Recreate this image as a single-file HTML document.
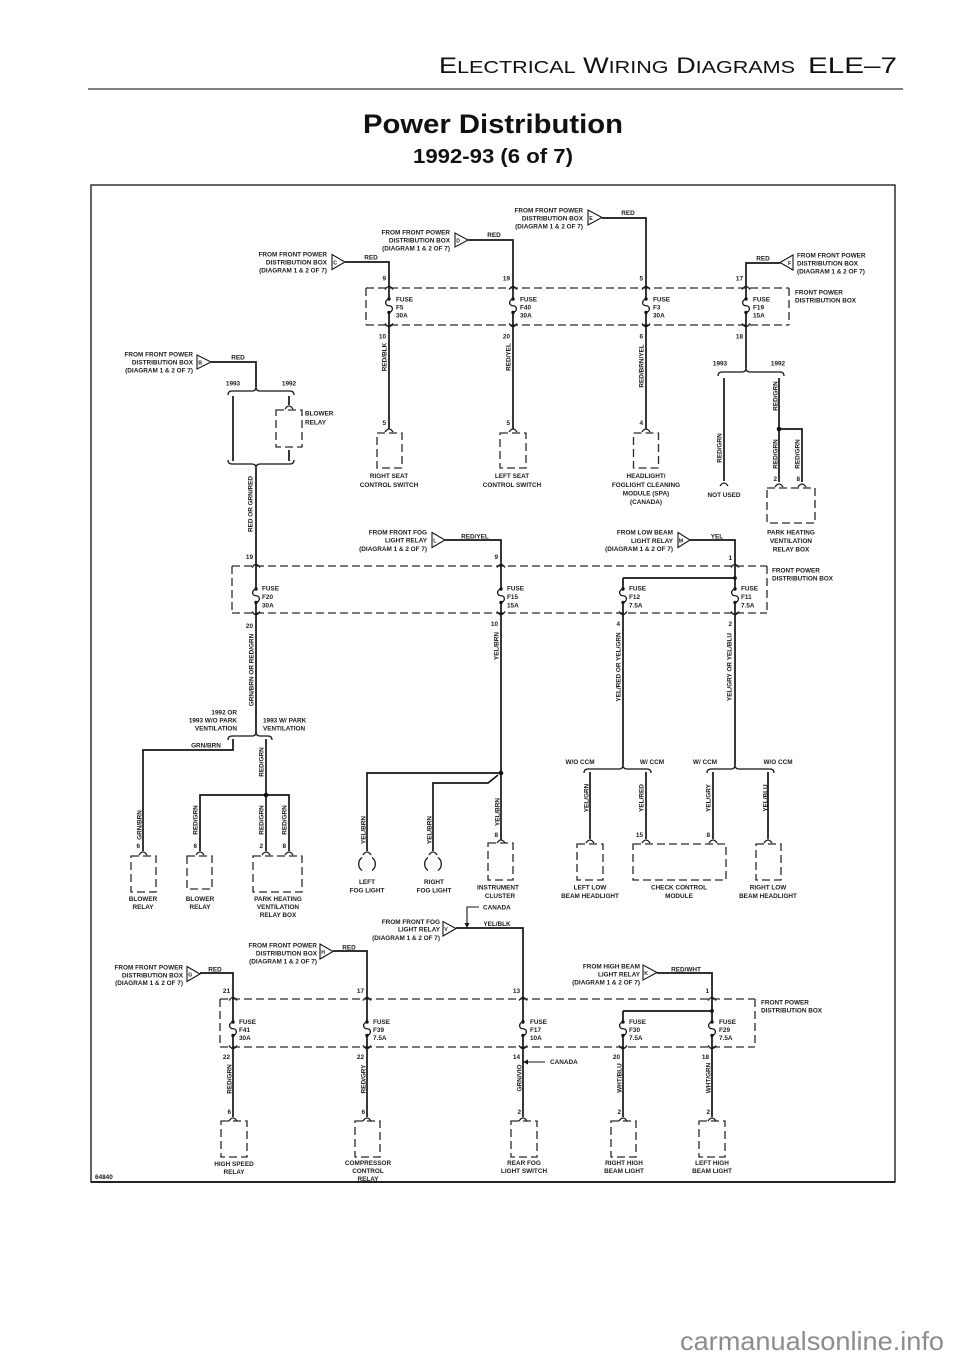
<!DOCTYPE html>
<html><head><meta charset="utf-8"><title>Power Distribution 1992-93 (6 of 7)</title><style>
html,body{margin:0;padding:0;background:#fff}
svg{display:block}
text{font-family:"Liberation Sans",Arial,sans-serif;font-weight:bold;font-size:6.4px;fill:#1c1c1c}
.m{text-anchor:middle}.e{text-anchor:end}
.w{fill:none;stroke:#151515;stroke-width:1.7}
.d{fill:none;stroke:#2a2a2a;stroke-width:1.3;stroke-dasharray:8 4}
.t{fill:#fff;stroke:#151515;stroke-width:1.1}
.lt{font-size:5.2px}
</style></head><body>
<svg width="960" height="1357" viewBox="0 0 960 1357" xmlns="http://www.w3.org/2000/svg">
<defs>
<g id="fz"><path d="M0,0c-4.5,1 -4.5,6.75 0,6.75c4.5,0 4.5,5.75 0,6.75" fill="none" stroke="#151515" stroke-width="1.3"/><circle r="1.7" fill="#151515"/><circle cy="13.5" r="1.7" fill="#151515"/></g>
<path id="ca" d="M-4,1.5Q0,-4.5 4,1.5" fill="none" stroke="#151515" stroke-width="1.3"/>
<path id="cb" d="M-4,-1.5Q0,4.5 4,-1.5" fill="none" stroke="#151515" stroke-width="1.3"/>
<path id="cc" d="M-4,2Q0,-4 4,2" fill="none" stroke="#151515" stroke-width="1.3"/>
</defs>

<!-- HEADER -->
<text x="439" y="73" style="font-weight:normal;font-size:22px;fill:#111" textLength="356" lengthAdjust="spacingAndGlyphs">E<tspan style="font-size:17.5px">LECTRICAL</tspan> W<tspan style="font-size:17.5px">IRING</tspan> D<tspan style="font-size:17.5px">IAGRAMS</tspan></text>
<text x="808" y="73" style="font-weight:normal;font-size:22px;fill:#111" textLength="89" lengthAdjust="spacingAndGlyphs">ELE–7</text>
<line x1="88" y1="89" x2="903" y2="89" stroke="#333" stroke-width="1.2"/>
<text x="363" y="133" style="font-size:27px;fill:#111" textLength="260" lengthAdjust="spacingAndGlyphs">Power Distribution</text>
<text x="413" y="163" style="font-size:20px;fill:#111" textLength="160" lengthAdjust="spacingAndGlyphs">1992-93 (6 of 7)</text>

<!-- FRAME -->
<rect x="91" y="185" width="804" height="997" fill="none" stroke="#222" stroke-width="1.4"/>
<line x1="91" y1="1182" x2="895" y2="1182" stroke="#222" stroke-width="2"/>

<!-- ========== TOP SECTION ========== -->
<!-- E -->
<text class="e" x="583" y="212.5">FROM FRONT POWER</text>
<text class="e" x="583" y="220.5">DISTRIBUTION BOX</text>
<text class="e" x="583" y="228.5">(DIAGRAM 1 &amp; 2 OF 7)</text>
<polygon class="t" points="588,210 588,225 602,217.5"/><text class="lt" x="589.3" y="220">E</text>
<text class="m" x="628" y="215">RED</text>
<!-- D -->
<text class="e" x="450" y="234.5">FROM FRONT POWER</text>
<text class="e" x="450" y="242.5">DISTRIBUTION BOX</text>
<text class="e" x="450" y="250.5">(DIAGRAM 1 &amp; 2 OF 7)</text>
<polygon class="t" points="455,233 455,247 468,240"/><text class="lt" x="456.2" y="242.3">D</text>
<text class="m" x="494" y="237">RED</text>
<!-- C -->
<text class="e" x="327" y="256.5">FROM FRONT POWER</text>
<text class="e" x="327" y="264.5">DISTRIBUTION BOX</text>
<text class="e" x="327" y="272.5">(DIAGRAM 1 &amp; 2 OF 7)</text>
<polygon class="t" points="332,254.5 332,269.5 345,262"/><text class="lt" x="333.2" y="264.3">C</text>
<text class="m" x="371" y="259.5">RED</text>
<!-- F -->
<text x="797" y="257.5">FROM FRONT POWER</text>
<text x="797" y="265.5">DISTRIBUTION BOX</text>
<text x="797" y="273.5">(DIAGRAM 1 &amp; 2 OF 7)</text>
<polygon class="t" points="793,255 793,270 780,262.5"/><text class="lt" x="788" y="265">F</text>
<text class="m" x="763" y="260.5">RED</text>

<text x="795" y="294.5">FRONT POWER</text>
<text x="795" y="302.5">DISTRIBUTION BOX</text>

<path class="d" d="M366,288H789M366,325H789M366,288V325M789,288V325"/>

<path class="w" d="M345,262H389V299M389,312.5V429"/>
<path class="w" d="M468,240H513V299M513,312.5V429"/>
<path class="w" d="M602,218H646V299M646,312.5V429"/>
<path class="w" d="M780,263H746V299M746,312.5V368"/>
<use href="#fz" x="389" y="299"/><use href="#ca" x="389" y="288"/><use href="#cb" x="389" y="325"/>
<use href="#fz" x="513" y="299"/><use href="#ca" x="513" y="288"/><use href="#cb" x="513" y="325"/>
<use href="#fz" x="646" y="299"/><use href="#ca" x="646" y="288"/><use href="#cb" x="646" y="325"/>
<use href="#fz" x="746" y="299"/><use href="#ca" x="746" y="288"/><use href="#cb" x="746" y="325"/>

<text class="e" x="386" y="280.5">9</text>
<text class="e" x="510" y="280.5">19</text>
<text class="e" x="643" y="280.5">5</text>
<text class="e" x="743" y="280.5">17</text>
<text class="e" x="386" y="338.5">10</text>
<text class="e" x="510" y="338.5">20</text>
<text class="e" x="643" y="338.5">6</text>
<text class="e" x="743" y="338.5">18</text>

<text x="396" y="301.5">FUSE</text><text x="396" y="309.5">F5</text><text x="396" y="317.5">30A</text>
<text x="520" y="301.5">FUSE</text><text x="520" y="309.5">F40</text><text x="520" y="317.5">30A</text>
<text x="653" y="301.5">FUSE</text><text x="653" y="309.5">F3</text><text x="653" y="317.5">30A</text>
<text x="753" y="301.5">FUSE</text><text x="753" y="309.5">F19</text><text x="753" y="317.5">15A</text>

<text class="m" transform="translate(386.3,357) rotate(-90)">RED/BLK</text>
<text class="m" transform="translate(510.3,357) rotate(-90)">RED/YEL</text>
<text class="m" transform="translate(643.3,366) rotate(-90)">RED/BRN/YEL</text>

<text class="e" x="386" y="425">5</text>
<text class="e" x="510" y="425">5</text>
<text class="e" x="643" y="425">4</text>
<use href="#cc" x="389" y="430"/><use href="#cc" x="513" y="430"/><use href="#cc" x="646" y="430"/>
<rect class="d" x="377" y="433" width="25" height="35"/>
<rect class="d" x="500" y="433" width="26" height="35"/>
<rect class="d" x="633.5" y="433" width="25" height="35"/>
<text class="m" x="389" y="478">RIGHT SEAT</text><text class="m" x="389" y="487">CONTROL SWITCH</text>
<text class="m" x="512" y="478">LEFT SEAT</text><text class="m" x="512" y="487">CONTROL SWITCH</text>
<text class="m" x="646" y="478">HEADLIGHT/</text><text class="m" x="646" y="487">FOGLIGHT CLEANING</text>
<text class="m" x="646" y="495.5">MODULE (SPA)</text><text class="m" x="646" y="504">(CANADA)</text>

<!-- F19 branches -->
<text class="m" x="720" y="365.5">1993</text>
<text class="m" x="778" y="365.5">1992</text>
<path class="w" style="stroke-width:1.3" d="M718,376Q718,372 722,372L742,372Q746,372 746,368Q746,372 750,372L780,372Q784,372 784,376"/>
<path class="w" d="M724,378V481"/>
<path class="w" d="M779,378V482M779,429H802V482"/>
<circle cx="779" cy="429" r="2.3" fill="#111"/>
<use href="#cc" x="724" y="484"/>
<use href="#cc" x="779" y="485"/><use href="#cc" x="802" y="485"/>
<text class="m" transform="translate(721.3,448) rotate(-90)">RED/GRN</text>
<text class="m" transform="translate(777.3,396) rotate(-90)">RED/GRN</text>
<text class="m" transform="translate(777.3,454) rotate(-90)">RED/GRN</text>
<text class="m" transform="translate(799.3,454) rotate(-90)">RED/GRN</text>
<text class="m" x="724" y="497">NOT USED</text>
<text class="e" x="777" y="481">2</text>
<text class="e" x="800" y="481">8</text>
<rect class="d" x="767" y="488" width="48" height="35"/>
<text class="m" x="791" y="534.5">PARK HEATING</text>
<text class="m" x="791" y="543">VENTILATION</text>
<text class="m" x="791" y="551.5">RELAY BOX</text>

<!-- B section -->
<text class="e" x="193" y="356.5">FROM FRONT POWER</text>
<text class="e" x="193" y="364.5">DISTRIBUTION BOX</text>
<text class="e" x="193" y="372.5">(DIAGRAM 1 &amp; 2 OF 7)</text>
<polygon class="t" points="197,355 197,369 211,362"/><text class="lt" x="198.2" y="364.3">B</text>
<text class="m" x="238" y="359.5">RED</text>
<path class="w" d="M211,362H256V387"/>
<text class="m" x="233" y="385.5">1993</text>
<text class="m" x="289" y="385.5">1992</text>
<path class="w" style="stroke-width:1.3" d="M228,395Q228,391 232,391L252,391Q256,391 256,387Q256,391 260,391L290,391Q294,391 294,395"/>
<path class="w" d="M233,396V461"/>
<path class="w" d="M289,396V405M289,450V461"/>
<use href="#cc" x="289" y="407"/>
<rect class="d" x="276" y="410" width="26" height="37"/>
<text x="305" y="415.5">BLOWER</text>
<text x="305" y="424.5">RELAY</text>
<path class="w" style="stroke-width:1.3" d="M228,460Q228,464 232,464L252,464Q256,464 256,468Q256,464 260,464L290,464Q294,464 294,460"/>
<text class="m" transform="translate(252.3,504) rotate(-90)">RED OR GRN/RED</text>

<!-- ========== MIDDLE SECTION ========== -->
<text class="e" x="427" y="534.5">FROM FRONT FOG</text>
<text class="e" x="427" y="542.5">LIGHT RELAY</text>
<text class="e" x="427" y="551">(DIAGRAM 1 &amp; 2 OF 7)</text>
<polygon class="t" points="432,532.5 432,547.5 445,540"/><text class="lt" x="433.3" y="542.3">L</text>
<text class="m" x="475" y="538.5">RED/YEL</text>

<text class="e" x="673" y="534.5">FROM LOW BEAM</text>
<text class="e" x="673" y="543">LIGHT RELAY</text>
<text class="e" x="673" y="551">(DIAGRAM 1 &amp; 2 OF 7)</text>
<polygon class="t" points="678,532.5 678,547.5 690,540"/><text class="lt" x="678.8" y="542.3">M</text>
<text class="m" x="717" y="538.5">YEL</text>

<text x="772" y="572.5">FRONT POWER</text>
<text x="772" y="580.5">DISTRIBUTION BOX</text>

<path class="d" d="M232,566H767M232,613H767M232,566V613M767,566V613"/>

<path class="w" d="M256,468V589M256,602.5V733"/>
<path class="w" d="M445,540H501V589M501,602.5V840"/>
<path class="w" d="M623,578V589M623,602.5V765M623,578H735"/>
<path class="w" d="M690,540H735V589M735,602.5V765"/>
<circle cx="735" cy="578" r="1.9" fill="#111"/>
<use href="#fz" x="256" y="589"/><use href="#ca" x="256" y="566"/><use href="#cb" x="256" y="613"/>
<use href="#fz" x="501" y="589"/><use href="#ca" x="501" y="566"/><use href="#cb" x="501" y="613"/>
<use href="#fz" x="623" y="589"/><use href="#cb" x="623" y="613"/>
<use href="#fz" x="735" y="589"/><use href="#ca" x="735" y="566"/><use href="#cb" x="735" y="613"/>

<text class="e" x="253" y="559">19</text>
<text class="e" x="498" y="559">9</text>
<text class="e" x="732" y="560">1</text>
<text class="e" x="253" y="628">20</text>
<text class="e" x="498" y="626">10</text>
<text class="e" x="620" y="626">4</text>
<text class="e" x="732" y="626">2</text>

<text x="262" y="590.5">FUSE</text><text x="262" y="599">F20</text><text x="262" y="607.5">30A</text>
<text x="507" y="590.5">FUSE</text><text x="507" y="599">F15</text><text x="507" y="607.5">15A</text>
<text x="629" y="590.5">FUSE</text><text x="629" y="599">F12</text><text x="629" y="607.5">7.5A</text>
<text x="741" y="590.5">FUSE</text><text x="741" y="599">F11</text><text x="741" y="607.5">7.5A</text>

<!-- F20 branches -->
<text class="m" transform="translate(253.3,670) rotate(-90)">GRN/BRN OR RED/GRN</text>
<text class="e" x="237" y="714.5">1992 OR</text>
<text class="e" x="237" y="722.5">1993 W/O PARK</text>
<text class="e" x="237" y="730.5">VENTILATION</text>
<text x="263" y="722.5">1993 W/ PARK</text>
<text x="263" y="730.5">VENTILATION</text>
<path class="w" style="stroke-width:1.3" d="M228,740Q228,736 232,736L252,736Q256,736 256,732Q256,736 260,736L268,736Q272,736 272,740"/>
<path class="w" d="M233,739V750H143V851"/>
<text class="m" x="206" y="747.5">GRN/BRN</text>
<path class="w" d="M266,739V851M200,851V795H289V851"/>
<circle cx="266" cy="795" r="2.3" fill="#111"/>
<text class="m" transform="translate(263.3,762) rotate(-90)">RED/GRN</text>
<text class="m" transform="translate(141.3,825) rotate(-90)">GRN/BRN</text>
<text class="m" transform="translate(197.3,820) rotate(-90)">RED/GRN</text>
<text class="m" transform="translate(263.3,820) rotate(-90)">RED/GRN</text>
<text class="m" transform="translate(286.3,820) rotate(-90)">RED/GRN</text>
<text class="e" x="140" y="848">6</text>
<text class="e" x="197" y="848">6</text>
<text class="e" x="263" y="848">2</text>
<text class="e" x="286" y="848">8</text>
<use href="#cc" x="143" y="853"/><use href="#cc" x="200" y="853"/><use href="#cc" x="266" y="853"/><use href="#cc" x="289" y="853"/>
<rect class="d" x="131" y="856" width="25" height="36"/>
<rect class="d" x="187" y="856" width="25" height="33"/>
<rect class="d" x="253" y="856" width="49" height="36"/>
<text class="m" x="143" y="901">BLOWER</text><text class="m" x="143" y="909">RELAY</text>
<text class="m" x="200" y="901">BLOWER</text><text class="m" x="200" y="909">RELAY</text>
<text class="m" x="278" y="901">PARK HEATING</text><text class="m" x="278" y="909">VENTILATION</text><text class="m" x="278" y="917">RELAY BOX</text>

<!-- F15 branches -->
<text class="m" transform="translate(498.3,646) rotate(-90)">YEL/BRN</text>
<circle cx="501" cy="773" r="2.3" fill="#111"/>
<path class="w" d="M501,773H367V851"/>
<path class="w" d="M498,775L488,783H433V851"/>
<text class="m" transform="translate(365.3,830) rotate(-90)">YEL/BRN</text>
<text class="m" transform="translate(431.3,830) rotate(-90)">YEL/BRN</text>
<text class="m" transform="translate(499.3,812) rotate(-90)">YEL/BRN</text>
<use href="#cc" x="367" y="853"/><use href="#cc" x="433" y="853"/><use href="#cc" x="501" y="841"/>
<path fill="none" stroke="#151515" stroke-width="1.3" d="M362,857.5A8,8 0 0 0 362,870.5M372,857.5A8,8 0 0 1 372,870.5"/>
<path fill="none" stroke="#151515" stroke-width="1.3" d="M428,857.5A8,8 0 0 0 428,870.5M438,857.5A8,8 0 0 1 438,870.5"/>
<text class="m" x="367" y="884">LEFT</text><text class="m" x="367" y="892.5">FOG LIGHT</text>
<text class="m" x="434" y="884">RIGHT</text><text class="m" x="434" y="892.5">FOG LIGHT</text>
<text class="e" x="498" y="837">8</text>
<rect class="d" x="488" y="843" width="25" height="37"/>
<text class="m" x="498" y="889.5">INSTRUMENT</text>
<text class="m" x="500" y="898">CLUSTER</text>

<!-- CANADA + V -->
<text x="483" y="909.5">CANADA</text>
<path fill="none" stroke="#151515" stroke-width="1.1" d="M479,907H467V924"/>
<polygon points="464.5,923 469.5,923 467,928" fill="#151515"/>
<text class="e" x="440" y="924">FROM FRONT FOG</text>
<text class="e" x="440" y="931.5">LIGHT RELAY</text>
<text class="e" x="440" y="940">(DIAGRAM 1 &amp; 2 OF 7)</text>
<polygon class="t" points="443,921.5 443,936 456,928.5"/><text class="lt" x="444.2" y="931">V</text>
<text class="m" x="497" y="926">YEL/BLK</text>

<!-- F12/F11 low beams -->
<text class="m" transform="translate(620.3,667) rotate(-90)">YEL/RED OR YEL/GRN</text>
<text class="m" transform="translate(731.3,667) rotate(-90)">YEL/GRY OR YEL/BLU</text>
<text class="m" x="580" y="764">W/O CCM</text>
<text class="m" x="652" y="764">W/ CCM</text>
<text class="m" x="705" y="764">W/ CCM</text>
<text class="m" x="778" y="764">W/O CCM</text>
<path class="w" style="stroke-width:1.3" d="M584,773Q584,769 588,769L619,769Q623,769 623,765Q623,769 627,769L647,769Q651,769 651,773"/>
<path class="w" style="stroke-width:1.3" d="M707,773Q707,769 711,769L731,769Q735,769 735,765Q735,769 739,769L770,769Q774,769 774,773"/>
<path class="w" d="M590,772V839M646,772V839M713,772V839M768,772V839"/>
<text class="m" transform="translate(588.3,798) rotate(-90)">YEL/GRN</text>
<text class="m" transform="translate(643.3,798) rotate(-90)">YEL/RED</text>
<text class="m" transform="translate(710.3,798) rotate(-90)">YEL/GRY</text>
<text class="m" transform="translate(767.3,798) rotate(-90)">YEL/BLU</text>
<text class="e" x="643" y="837">15</text>
<text class="e" x="710" y="837">8</text>
<use href="#cc" x="590" y="841"/><use href="#cc" x="646" y="841"/><use href="#cc" x="713" y="841"/><use href="#cc" x="768" y="841"/>
<rect class="d" x="577" y="844" width="26" height="36"/>
<rect class="d" x="633" y="844" width="93" height="36"/>
<rect class="d" x="756" y="844" width="25" height="36"/>
<text class="m" x="590" y="889.5">LEFT LOW</text><text class="m" x="590" y="898">BEAM HEADLIGHT</text>
<text class="m" x="679" y="889.5">CHECK CONTROL</text><text class="m" x="679" y="898">MODULE</text>
<text class="m" x="768" y="889.5">RIGHT LOW</text><text class="m" x="768" y="898">BEAM HEADLIGHT</text>

<!-- ========== BOTTOM SECTION ========== -->
<text class="e" x="317" y="947.5">FROM FRONT POWER</text>
<text class="e" x="317" y="955.5">DISTRIBUTION BOX</text>
<text class="e" x="317" y="963.5">(DIAGRAM 1 &amp; 2 OF 7)</text>
<polygon class="t" points="320,944 320,959 333,951.5"/><text class="lt" x="321.2" y="954">H</text>
<text class="m" x="349" y="949.5">RED</text>

<text class="e" x="183" y="969.5">FROM FRONT POWER</text>
<text class="e" x="183" y="977.5">DISTRIBUTION BOX</text>
<text class="e" x="183" y="985">(DIAGRAM 1 &amp; 2 OF 7)</text>
<polygon class="t" points="187,966.5 187,981.5 200,974"/><text class="lt" x="188.2" y="976.3">G</text>
<text class="m" x="215" y="971.5">RED</text>

<text class="e" x="640" y="968.5">FROM HIGH BEAM</text>
<text class="e" x="640" y="976.5">LIGHT RELAY</text>
<text class="e" x="640" y="984.5">(DIAGRAM 1 &amp; 2 OF 7)</text>
<polygon class="t" points="643,965 643,980 657,972.5"/><text class="lt" x="644.2" y="975">K</text>
<text class="m" x="686" y="971.5">RED/WHT</text>

<text x="761" y="1004.5">FRONT POWER</text>
<text x="761" y="1012.5">DISTRIBUTION BOX</text>

<path class="d" d="M220,999H755M220,1047H755M220,999V1047M755,999V1047"/>

<path class="w" d="M200,973H233V1022M233,1035.5V1117"/>
<path class="w" d="M333,951H367V1022M367,1035.5V1117"/>
<path class="w" d="M456,928H523V1022M523,1035.5V1117"/>
<path class="w" d="M623,1011V1022M623,1035.5V1117M623,1011H712"/>
<path class="w" d="M657,973H712V1022M712,1035.5V1117"/>
<circle cx="712" cy="1011" r="1.9" fill="#111"/>
<use href="#fz" x="233" y="1022"/><use href="#ca" x="233" y="999"/><use href="#cb" x="233" y="1047"/>
<use href="#fz" x="367" y="1022"/><use href="#ca" x="367" y="999"/><use href="#cb" x="367" y="1047"/>
<use href="#fz" x="523" y="1022"/><use href="#ca" x="523" y="999"/><use href="#cb" x="523" y="1047"/>
<use href="#fz" x="623" y="1022"/><use href="#cb" x="623" y="1047"/>
<use href="#fz" x="712" y="1022"/><use href="#ca" x="712" y="999"/><use href="#cb" x="712" y="1047"/>

<text class="e" x="230" y="993">21</text>
<text class="e" x="364" y="993">17</text>
<text class="e" x="520" y="993">13</text>
<text class="e" x="709" y="993">1</text>
<text class="e" x="230" y="1059">22</text>
<text class="e" x="364" y="1059">22</text>
<text class="e" x="520" y="1059">14</text>
<text class="e" x="620" y="1059">20</text>
<text class="e" x="709" y="1059">18</text>

<text x="239" y="1024">FUSE</text><text x="239" y="1032">F41</text><text x="239" y="1040">30A</text>
<text x="373" y="1024">FUSE</text><text x="373" y="1032">F39</text><text x="373" y="1040">7.5A</text>
<text x="530" y="1024">FUSE</text><text x="530" y="1032">F17</text><text x="530" y="1040">10A</text>
<text x="629" y="1024">FUSE</text><text x="629" y="1032">F30</text><text x="629" y="1040">7.5A</text>
<text x="719" y="1024">FUSE</text><text x="719" y="1032">F29</text><text x="719" y="1040">7.5A</text>

<path fill="none" stroke="#151515" stroke-width="1.1" d="M545,1062H527"/>
<polygon points="523,1062 528,1059.5 528,1064.5" fill="#151515"/>
<text x="550" y="1064">CANADA</text>

<text class="m" transform="translate(231.3,1079) rotate(-90)">RED/GRN</text>
<text class="m" transform="translate(365.3,1079) rotate(-90)">RED/GRY</text>
<text class="m" transform="translate(521.3,1078) rotate(-90)">GRN/VIO</text>
<text class="m" transform="translate(621.3,1078) rotate(-90)">WHT/BLU</text>
<text class="m" transform="translate(710.3,1078) rotate(-90)">WHT/GRN</text>

<text class="e" x="231" y="1114">6</text>
<text class="e" x="365" y="1114">6</text>
<text class="e" x="521" y="1114">2</text>
<text class="e" x="621" y="1114">2</text>
<text class="e" x="710" y="1114">2</text>
<use href="#cc" x="233" y="1119"/><use href="#cc" x="367" y="1119"/><use href="#cc" x="523" y="1119"/><use href="#cc" x="623" y="1119"/><use href="#cc" x="712" y="1119"/>
<rect class="d" x="221" y="1121" width="26" height="36"/>
<rect class="d" x="355" y="1121" width="25" height="36"/>
<rect class="d" x="511" y="1121" width="26" height="36"/>
<rect class="d" x="611" y="1121" width="25" height="36"/>
<rect class="d" x="699" y="1121" width="26" height="36"/>
<text class="m" x="234" y="1166">HIGH SPEED</text><text class="m" x="234" y="1174">RELAY</text>
<text class="m" x="368" y="1165">COMPRESSOR</text><text class="m" x="368" y="1173">CONTROL</text><text class="m" x="368" y="1181">RELAY</text>
<text class="m" x="524" y="1165">REAR FOG</text><text class="m" x="524" y="1173">LIGHT SWITCH</text>
<text class="m" x="624" y="1165">RIGHT HIGH</text><text class="m" x="624" y="1173">BEAM LIGHT</text>
<text class="m" x="712" y="1165">LEFT HIGH</text><text class="m" x="712" y="1173">BEAM LIGHT</text>
<text x="95" y="1179">64840</text>

<!-- WATERMARK -->
<text x="680" y="1350" style="font-weight:normal;font-size:26px;fill:#8c8c8c" textLength="264" lengthAdjust="spacingAndGlyphs">carmanualsonline.info</text>
</svg>
</body></html>
